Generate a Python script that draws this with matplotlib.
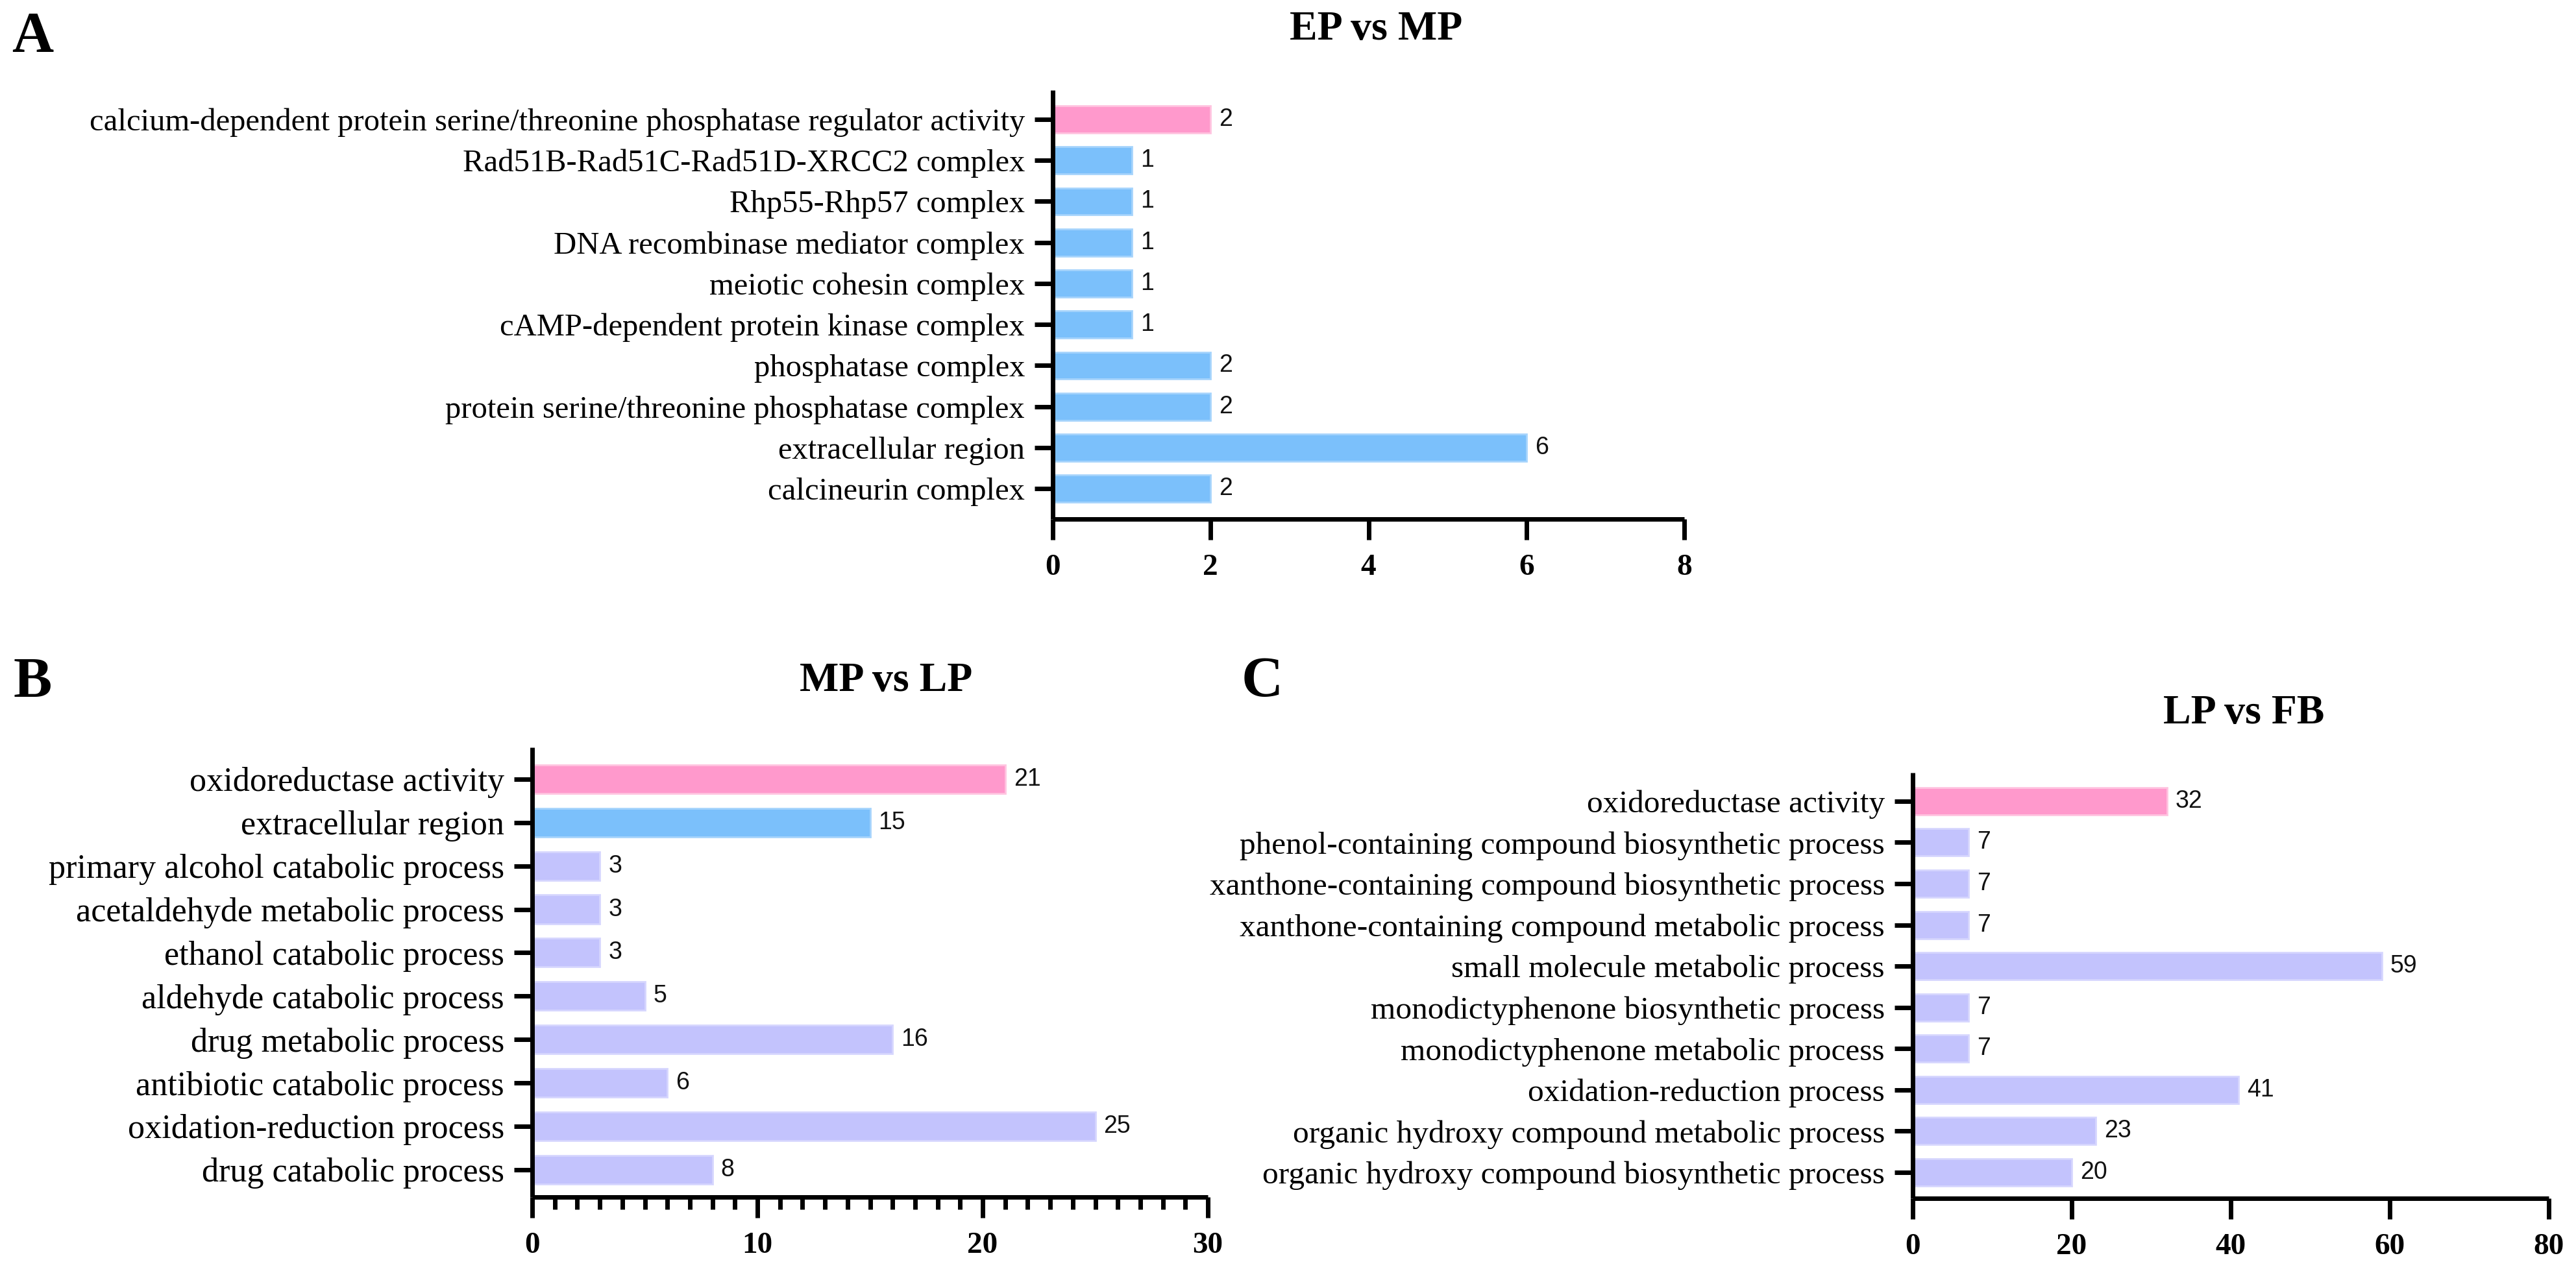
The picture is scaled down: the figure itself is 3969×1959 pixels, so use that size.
import matplotlib
matplotlib.use("Agg")
import matplotlib.pyplot as plt
from matplotlib.ticker import MultipleLocator

# ---------------- data (listed top to bottom as shown) ----------------
a_terms = [
    "calcium-dependent protein serine/threonine phosphatase regulator activity",
    "Rad51B-Rad51C-Rad51D-XRCC2 complex",
    "Rhp55-Rhp57 complex",
    "DNA recombinase mediator complex",
    "meiotic cohesin complex",
    "cAMP-dependent protein kinase complex",
    "phosphatase complex",
    "protein serine/threonine phosphatase complex",
    "extracellular region",
    "calcineurin complex",
]
a_counts = [2, 1, 1, 1, 1, 1, 2, 2, 6, 2]
a_class = ["MF", "CC", "CC", "CC", "CC", "CC", "CC", "CC", "CC", "CC"]

b_terms = [
    "oxidoreductase activity",
    "extracellular region",
    "primary alcohol catabolic process",
    "acetaldehyde metabolic process",
    "ethanol catabolic process",
    "aldehyde catabolic process",
    "drug metabolic process",
    "antibiotic catabolic process",
    "oxidation-reduction process",
    "drug catabolic process",
]
b_counts = [21, 15, 3, 3, 3, 5, 16, 6, 25, 8]
b_class = ["MF", "CC", "BP", "BP", "BP", "BP", "BP", "BP", "BP", "BP"]

c_terms = [
    "oxidoreductase activity",
    "phenol-containing compound biosynthetic process",
    "xanthone-containing compound biosynthetic process",
    "xanthone-containing compound metabolic process",
    "small molecule metabolic process",
    "monodictyphenone biosynthetic process",
    "monodictyphenone metabolic process",
    "oxidation-reduction process",
    "organic hydroxy compound metabolic process",
    "organic hydroxy compound biosynthetic process",
]
c_counts = [32, 7, 7, 7, 59, 7, 7, 41, 23, 20]
c_class = ["MF", "BP", "BP", "BP", "BP", "BP", "BP", "BP", "BP", "BP"]

titles = ["EP vs MP", "MP vs LP", "LP vs FB"]
letters = ["A", "B", "C"]
x_max = [8, 30, 80]
x_step = [2, 10, 20]

# ---------------- style ----------------
fill = {"MF": "#FF99CC", "CC": "#7BC0FB", "BP": "#C3C3FD"}
edge = {"MF": "#FFC4E0", "CC": "#A6D4FC", "BP": "#D6D6FE"}
SERIF = ["Liberation Serif", "DejaVu Serif"]
SANS = ["Liberation Sans", "DejaVu Sans"]

W, H = 3969, 1959
DPI = 100
fig = plt.figure(figsize=(W / DPI, H / DPI), dpi=DPI)


def px_axes(left, right, top, bottom):
    return fig.add_axes([left / W, 1 - bottom / H, (right - left) / W, (bottom - top) / H])


# pixel boxes: (left, right, top, bottom), ylim
boxes = [
    (1622, 2595, 139, 800, (-0.74, 9.71)),
    (820, 1861, 1152, 1845, (-0.63, 9.73)),
    (2947, 3927, 1191, 1847, (-0.63, 9.69)),
]
label_size = [35, 37.5, 35.6]
title_pos = [(2120, 46), (1365, 1050), (3457, 1100)]
letter_pos = [(50, 58), (50, 1052), (1945, 1052)]

panels = [
    (a_terms, a_counts, a_class),
    (b_terms, b_counts, b_class),
    (c_terms, c_counts, c_class),
]

for i, (terms, counts, cls) in enumerate(panels):
    l, r, t, b, ylim = boxes[i]
    ax = px_axes(l, r, t, b)
    n = len(terms)
    ypos = list(range(n - 1, -1, -1))
    ax.barh(ypos, counts, height=0.66,
            color=[fill[c] for c in cls],
            edgecolor=[edge[c] for c in cls], linewidth=2.0, zorder=2)
    for y, v in zip(ypos, counts):
        ax.annotate(str(v), xy=(v, y), xytext=(13, 0), textcoords="offset pixels",
                    ha="left", va="center", fontsize=27, family=SANS, color="#111111")
    ax.set_xlim(0, x_max[i])
    ax.set_ylim(*ylim)
    ax.set_yticks(ypos)
    ax.set_yticklabels(terms, family=SERIF, fontsize=label_size[i])
    ax.xaxis.set_major_locator(MultipleLocator(x_step[i]))
    if i == 1:
        ax.xaxis.set_minor_locator(MultipleLocator(1))
        ax.tick_params(axis="x", which="minor", length=14, width=5, direction="out")
    for lab in ax.get_xticklabels():
        lab.set_family(SERIF)
        lab.set_fontweight("bold")
        lab.set_fontsize(34)
    ax.tick_params(axis="x", which="major", length=23, width=5, pad=16, direction="out")
    ax.tick_params(axis="y", which="major", length=20, width=5, pad=11, direction="out")
    for s in ("top", "right"):
        ax.spines[s].set_visible(False)
    for s in ("left", "bottom"):
        ax.spines[s].set_linewidth(5)
        ax.spines[s].set_capstyle("butt")
    ax.set_facecolor("none")

    tx, ty = title_pos[i]
    fig.text(tx / W, 1 - ty / H, titles[i], ha="center", va="center",
             family=SERIF, fontweight="bold", fontsize=46)
    lx, ly = letter_pos[i]
    fig.text(lx / W, 1 - ly / H, letters[i], ha="center", va="center",
             family=SERIF, fontweight="bold", fontsize=64)

fig.savefig("out.png", dpi=DPI, facecolor="white")
